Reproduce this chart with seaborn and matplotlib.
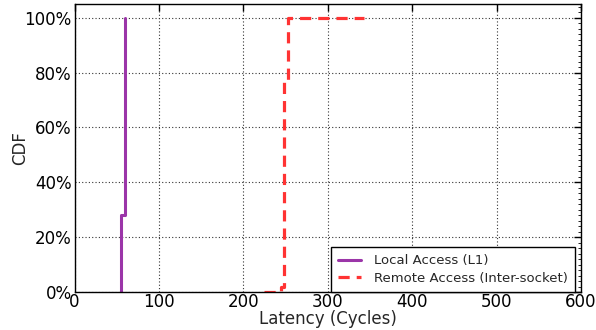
import matplotlib
matplotlib.use("Agg")
import matplotlib.pyplot as plt
import seaborn as sns
import pandas as pd
from matplotlib.ticker import PercentFormatter, AutoMinorLocator

local_x = [55.5, 55.5, 60]
local_y = [0.0, 0.28, 1.0]
remote_x = [225, 244, 248, 253, 343]
remote_y = [0.0, 0.02, 0.77, 1.0, 1.0]
labels = ["Local Access (L1)", "Remote Access (Inter-socket)"]
xticks = [0, 100, 200, 300, 400, 500, 600]
yticks = [0, 0.2, 0.4, 0.6, 0.8, 1.0]

sns.set_style("white")
plt.rcParams['font.family'] = ['DejaVu Sans']

fig = plt.figure(figsize=(5.96, 3.30), dpi=100)
ax = fig.add_axes([0.125, 0.115, 0.85, 0.873])

df_l = pd.DataFrame({"x": local_x, "y": local_y})
df_r = pd.DataFrame({"x": remote_x, "y": remote_y})
sns.lineplot(data=df_l, x="x", y="y", ax=ax, sort=False, estimator=None,
             drawstyle="steps-post", color="#9b35a8", linewidth=2.2, label=labels[0])
sns.lineplot(data=df_r, x="x", y="y", ax=ax, sort=False, estimator=None,
             drawstyle="steps-post", color="#ff3333", linewidth=2.3,
             dashes=False, linestyle=(0, (3.5, 2.2)), label=labels[1])

ax.set_xlim(0, 600)
ax.set_ylim(0, 1.05)
ax.set_xticks(xticks)
ax.set_yticks(yticks)
ax.yaxis.set_major_formatter(PercentFormatter(1.0, decimals=0))
ax.yaxis.set_minor_locator(AutoMinorLocator(10))
ax.tick_params(axis='both', which='both', direction='in', top=True, right=True,
               labelsize=12, colors='black')
ax.tick_params(axis='both', which='major', length=5, width=1)
ax.tick_params(axis='x', which='major', pad=1)
ax.tick_params(axis='y', which='major', pad=2)
ax.tick_params(axis='y', which='minor', length=2, width=0.6)
ax.grid(True, which='major', linestyle=(0, (1, 2)), color='#333333', linewidth=0.8)
for s in ax.spines.values():
    s.set_color('black')
    s.set_linewidth(1)
ax.set_xlabel("Latency (Cycles)", fontsize=12, labelpad=-1)
ax.set_ylabel("CDF", fontsize=12, labelpad=-3)

leg = ax.legend(loc='lower right', fontsize=9.5, fancybox=False, frameon=True,
                edgecolor='black', framealpha=1, borderaxespad=0,
                bbox_to_anchor=(0.988, 0.0), handlelength=1.7, handletextpad=1.0,
                borderpad=0.55, labelspacing=0.35)
leg.get_frame().set_linewidth(1)

fig.savefig("out.png", dpi=100)
